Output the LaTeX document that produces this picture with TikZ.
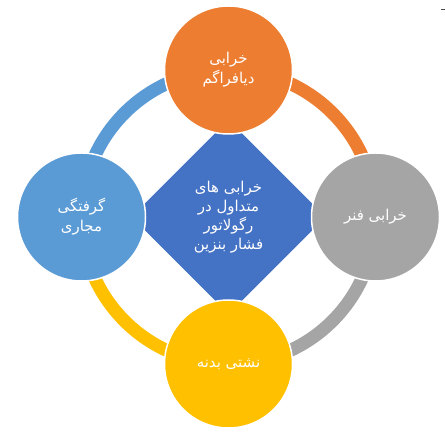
\documentclass[tikz,border=0pt]{standalone}
\usepackage{fontspec}
\usetikzlibrary{calc}
\newfontfamily\arabicfont[Script=Arabic]{DejaVu Sans}
\TeXXeTstate=1
\definecolor{cOrange}{HTML}{ED7D31}
\definecolor{cGray}{HTML}{A5A5A5}
\definecolor{cYellow}{HTML}{FFC000}
\definecolor{cBlue}{HTML}{5B9BD5}
\definecolor{cDark}{HTML}{4472C4}
\tikzset{
  ringarc/.style={line width=13bp},
  bubble/.style={circle, minimum size=128bp, inner sep=0pt, draw=white, line width=1.5bp,
    text=white, align=center, font=\arabicfont\fontsize{15}{20}\selectfont},
  hub/.style={text=white, align=center, font=\arabicfont\fontsize{15}{19}\selectfont}
}
\begin{document}
\begin{tikzpicture}[x=1bp,y=1bp]
\useasboundingbox (0,0) rectangle (445,435);
\coordinate (c) at (228.5,218);
% ring segments
\draw[ringarc, cOrange] ($(c)+(90:147)$) arc (90:0:147);
\draw[ringarc, cGray] ($(c)+(0:147)$) arc (0:-90:147);
\draw[ringarc, cYellow] ($(c)+(-90:147)$) arc (-90:-180:147);
\draw[ringarc, cBlue] ($(c)+(180:147)$) arc (180:90:147);
% central diamond
\fill[cDark] ($(c)+(0,97)$) coordinate (dt) -- ($(c)+(97,0)$) -- ($(c)+(0,-97)$) -- ($(c)+(-97,0)$) -- cycle;
\node[hub] (center) at (c) {\beginR خرابی های\endR\\\beginR متداول در\endR\\\beginR رگولاتور\endR\\\beginR فشار بنزین\endR};
% bubbles
\node[bubble, fill=cOrange] (top) at ($(c)+(0,147)$) {\beginR خرابی\endR\\\beginR دیافراگم\endR};
\node[bubble, fill=cGray] (right) at ($(c)+(147,0)$) {\beginR خرابی فنر\endR};
\node[bubble, fill=cYellow] (bottom) at ($(c)+(0,-147)$) {\beginR نشتی بدنه\endR};
\node[bubble, fill=cBlue] (left) at ($(c)+(-147,0)$) {\beginR گرفتگی\endR\\\beginR مجاری\endR};
% small mark top right
\coordinate (m1) at (441,425);
\coordinate (m2) at (445,425);
\draw[black!70, line width=1bp] (m1) -- (m2);
\end{tikzpicture}
\end{document}
